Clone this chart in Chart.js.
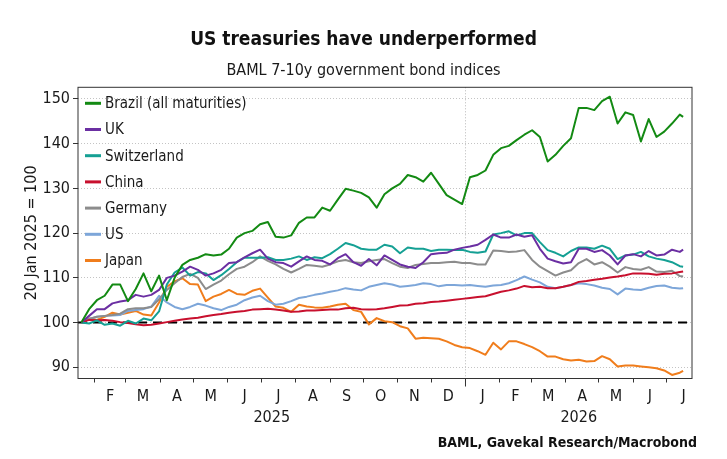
<!DOCTYPE html>
<html>
<head>
<meta charset="utf-8">
<script src="https://cdn.jsdelivr.net/npm/chart.js@4.4.1/dist/chart.umd.min.js"></script>
<style>
  html, body { margin: 0; padding: 0; background: #fff; }
</style>
</head>
<body>
<canvas id="chart" width="727" height="459"></canvas>
<script>
// weekly observations, 20 Jan 2025 = 100
const dates = [
  '2025-01-20', '2025-01-27', '2025-02-03', '2025-02-10', '2025-02-17', '2025-02-24',
  '2025-03-03', '2025-03-10', '2025-03-17', '2025-03-24', '2025-03-31',
  '2025-04-07', '2025-04-14', '2025-04-21', '2025-04-28',
  '2025-05-05', '2025-05-12', '2025-05-19', '2025-05-26',
  '2025-06-02', '2025-06-09', '2025-06-16', '2025-06-23', '2025-06-30',
  '2025-07-07', '2025-07-14', '2025-07-21', '2025-07-28',
  '2025-08-04', '2025-08-11', '2025-08-18', '2025-08-25',
  '2025-09-01', '2025-09-08', '2025-09-15', '2025-09-22', '2025-09-29',
  '2025-10-06', '2025-10-13', '2025-10-20', '2025-10-27',
  '2025-11-03', '2025-11-10', '2025-11-17', '2025-11-24',
  '2025-12-01', '2025-12-08', '2025-12-15', '2025-12-22', '2025-12-29',
  '2026-01-05', '2026-01-12', '2026-01-19', '2026-01-26',
  '2026-02-02', '2026-02-09', '2026-02-16', '2026-02-23',
  '2026-03-02', '2026-03-09', '2026-03-16', '2026-03-23', '2026-03-30',
  '2026-04-06', '2026-04-13', '2026-04-20', '2026-04-27',
  '2026-05-04', '2026-05-11', '2026-05-18', '2026-05-25',
  '2026-06-01', '2026-06-08', '2026-06-15', '2026-06-22', '2026-06-29',
  '2026-07-06', '2026-07-13', '2026-07-16'
];

const brazil = [100, 103, 105, 106, 108.5, 108.5, 104.8, 107.5, 111, 107,
  110.5, 105, 110, 112.9, 114, 114.5, 115.3, 115, 115.2, 116.5,
  119, 120, 120.5, 122, 122.5, 119.2, 119, 119.5, 122.3, 123.5,
  123.5, 125.7, 125, 127.5, 129.9, 129.5, 129, 128, 125.7, 128.7,
  130, 131, 133, 132.5, 131.5, 133.5, 131, 128.5, 127.5, 126.5,
  132.5, 133, 134, 137.5, 139, 139.5, 140.8, 142, 143, 141.5,
  136, 137.5, 139.5, 141.2, 148, 148, 147.5, 149.5, 150.5, 144.5,
  147, 146.4, 140.5, 145.5, 141.5, 142.7, 144.5, 146.5, 146];

const uk = [100, 101.5, 103, 103, 104.3, 104.7, 105, 106.2, 105.8, 106.2,
  107.3, 110, 110.5, 111.4, 112.5, 111.8, 110.5, 111, 111.8, 113.3,
  113.5, 114.6, 115.5, 116.3, 114.3, 113.5, 113.3, 112.5, 113.7, 114.8,
  114, 113.8, 113, 114.4, 115.3, 113.5, 112.7, 114.2, 112.8, 115,
  114, 113, 112.5, 112.2, 113.5, 115.3, 115.5, 115.6, 116.3, 116.7,
  117, 117.4, 118.5, 119.7, 119, 119, 119.7, 119.2, 119.5, 116.5,
  114.3, 113.7, 113.2, 113.5, 116.5, 116.5, 115.8, 116.2, 115, 113,
  115, 115.3, 114.8, 116, 115, 115.2, 116.3, 115.8, 116.3];

const switzerland = [100, 99.8, 100.5, 99.5, 99.8, 99.3, 100.4, 99.8, 100.9, 100.5,
  102.5, 108.5, 111.2, 112.3, 110.5, 111.3, 111, 109.5, 110.6, 112,
  113.5, 114.5, 114.5, 114.5, 114.6, 114, 114, 114.3, 114.8, 114,
  114.6, 114.4, 115.3, 116.5, 117.8, 117.3, 116.5, 116.3, 116.3, 117.4,
  117, 115.5, 116.8, 116.5, 116.5, 116, 116.3, 116.3, 116.2, 116.3,
  115.8, 115.6, 115.9, 119.7, 120, 120.4, 119.5, 120, 120, 118,
  116.2, 115.6, 114.8, 116, 116.8, 116.8, 116.5, 117.2, 116.5, 114.2,
  115, 115.2, 115.8, 114.8, 114.3, 114, 113.5, 112.6, 112.5];

const china = [100, 100.6, 100.5, 100.6, 100.4, 100.1, 99.9, 99.6, 99.4, 99.5,
  99.8, 100.1, 100.4, 100.7, 100.9, 101.1, 101.4, 101.7, 101.9, 102.2,
  102.4, 102.6, 102.9, 103, 103.1, 102.9, 102.7, 102.4, 102.5, 102.7,
  102.7, 102.8, 102.9, 102.9, 103.2, 103.3, 103, 102.9, 103, 103.2,
  103.5, 103.8, 103.9, 104.2, 104.3, 104.6, 104.7, 104.9, 105.1, 105.3,
  105.5, 105.7, 105.9, 106.4, 106.9, 107.2, 107.6, 108.2, 107.9, 108,
  107.7, 107.7, 108, 108.4, 109.1, 109.3, 109.6, 109.8, 110.1, 110.3,
  110.6, 111, 111, 110.9, 110.7, 110.9, 111, 111.3, 111.4];

const germany = [100, 100.8, 101.3, 101.5, 101.7, 102, 103, 103.2, 103.2, 103.5,
  105.2, 107.3, 108.8, 110.2, 110.9, 110, 107.5, 108.5, 109.4, 110.8,
  112, 112.5, 113.5, 114.8, 113.8, 113, 112, 111.2, 112, 112.9,
  112.7, 112.5, 113, 113.7, 114, 113.5, 113.3, 113.7, 114, 114.2,
  113.3, 112.5, 112.2, 112.9, 113.1, 113.3, 113.3, 113.5, 113.6, 113.3,
  113.3, 113, 113, 116.1, 116, 115.8, 115.9, 116.2, 114, 112.5,
  111.5, 110.5, 111.2, 111.7, 113.3, 114.2, 113, 113.5, 112.5, 111.2,
  112.4, 112, 111.8, 112.4, 111.4, 111.3, 111.6, 110.4, 110.3];

const us = [100, 100.8, 101.3, 101.5, 101.6, 101.7, 102.6, 102.8, 103, 103.6,
  106, 104.5, 103.5, 103, 103.5, 104.2, 103.8, 103.2, 102.8, 103.5,
  104, 105, 105.6, 106, 104.8, 104, 104.2, 104.8, 105.5, 105.8,
  106.2, 106.5, 106.9, 107.2, 107.7, 107.4, 107.2, 108, 108.4, 108.8,
  108.5, 108, 108.2, 108.4, 108.8, 108.6, 108.1, 108.4, 108.4, 108.3,
  108.4, 108.2, 108, 108.3, 108.4, 108.8, 109.5, 110.3, 109.6, 109,
  108, 107.7, 108, 108.4, 108.8, 108.6, 108.3, 107.8, 107.5, 106.3,
  107.6, 107.4, 107.3, 107.8, 108.2, 108.3, 107.8, 107.6, 107.7];

const japan = [100, 100.9, 100.6, 101.3, 102.2, 101.8, 102.2, 102.6, 101.8, 101.6,
  104.5, 108, 109.2, 109.9, 108.6, 108.5, 104.8, 105.8, 106.4, 107.3,
  106.4, 106.2, 107.1, 107.6, 105.6, 103.6, 103.3, 102.4, 104, 103.6,
  103.4, 103.3, 103.6, 104, 104.2, 102.8, 102.4, 99.6, 101, 100.3,
  100.1, 99.2, 98.7, 96.4, 96.6, 96.5, 96.4, 95.8, 95, 94.5,
  94.3, 93.6, 92.8, 95.5, 94, 95.8, 95.8, 95.2, 94.5, 93.6,
  92.4, 92.4, 91.8, 91.5, 91.7, 91.3, 91.4, 92.5, 91.8, 90.2,
  90.4, 90.4, 90.2, 90, 89.8, 89.3, 88.3, 88.8, 89.2];

const monthLetters = ['F', 'M', 'A', 'M', 'J', 'J', 'A', 'S', 'O', 'N', 'D',
  'J', 'F', 'M', 'A', 'M', 'J', 'J'];
const yearLabels = ['2025', '2026'];
const yTicks = [90, 100, 110, 120, 130, 140, 150];
const baseValue = 100;

const FONT = "'DejaVu Sans Condensed', 'Liberation Sans Narrow', sans-serif";
const TEXT = '#1a1a1a';

// dates -> day numbers (no date adapter available)
const origin = Date.UTC(2025, 0, 20);
function toDay(s) {
  const p = s.split('-').map(Number);
  return (Date.UTC(p[0], p[1] - 1, p[2]) - origin) / 864e5;
}
const xMin = toDay('2025-01-17');
const xMax = toDay('2026-07-24');
const yearStart = toDay('2026-01-01');

// month boundaries and mid-month label positions
const monthStarts = [];
for (let i = 0; i <= monthLetters.length; i++) {
  monthStarts.push((Date.UTC(2025, 1 + i, 1) - origin) / 864e5);
}
const labelAt = new Map();
const startSet = new Set(monthStarts.slice(0, monthLetters.length));
monthLetters.forEach((m, i) => {
  labelAt.set((monthStarts[i] + monthStarts[i + 1]) / 2, m);
});
const yearCentres = [(xMin + yearStart) / 2, (yearStart + xMax) / 2];

function series(values) {
  return dates.map((d, i) => ({ x: toDay(d), y: values[i] }));
}

const seriesDefs = [
  { label: 'Brazil (all maturities)', values: brazil, color: '#138a13' },
  { label: 'UK', values: uk, color: '#6b2fa2' },
  { label: 'Switzerland', values: switzerland, color: '#15a094' },
  { label: 'China', values: china, color: '#c8102e' },
  { label: 'Germany', values: germany, color: '#8c8c8c' },
  { label: 'US', values: us, color: '#7da6d9' },
  { label: 'Japan', values: japan, color: '#f07d1c' }
];

const datasets = seriesDefs.map(s => ({
  label: s.label,
  data: series(s.values),
  borderColor: s.color,
  backgroundColor: s.color,
  borderWidth: 2,
  pointRadius: 0,
  tension: 0,
  borderJoinStyle: 'round'
}));
datasets.push({
  label: '',
  data: [{ x: xMin, y: baseValue }, { x: xMax, y: baseValue }],
  borderColor: '#000',
  borderWidth: 2,
  borderDash: [9, 6],
  pointRadius: 0,
  order: 10
});

// frame, legend inside the plot, long year tick, source line
const extras = {
  id: 'extras',
  afterDraw(chart) {
    const { ctx, chartArea: a } = chart;
    ctx.save();
    ctx.strokeStyle = '#333';
    ctx.lineWidth = 1;
    ctx.strokeRect(a.left, a.top, a.right - a.left, a.bottom - a.top);

    const xs = chart.scales.x.getPixelForValue(yearStart);
    ctx.beginPath();
    ctx.moveTo(xs, a.bottom);
    ctx.lineTo(xs, a.bottom + 8);
    ctx.stroke();

    ctx.font = '15px ' + FONT;
    ctx.textBaseline = 'middle';
    chart.data.datasets.filter(d => d.label).forEach((ds, i) => {
      const y = a.top + 16 + i * 26.2;
      ctx.strokeStyle = ds.borderColor;
      ctx.lineWidth = 3;
      ctx.beginPath();
      ctx.moveTo(a.left + 7, y);
      ctx.lineTo(a.left + 23, y);
      ctx.stroke();
      ctx.fillStyle = TEXT;
      ctx.fillText(ds.label, a.left + 27, y + 1);
    });

    ctx.font = 'bold 14px ' + FONT;
    ctx.textAlign = 'right';
    ctx.fillStyle = '#111';
    ctx.fillText('BAML, Gavekal Research/Macrobond', 697, 443);
    ctx.restore();
  }
};

Chart.defaults.font.family = FONT;
Chart.defaults.font.size = 16;
Chart.defaults.color = TEXT;

new Chart(document.getElementById('chart'), {
  type: 'line',
  data: { datasets: datasets },
  plugins: [extras],
  options: {
    responsive: false,
    animation: false,
    layout: { padding: { top: 4, left: 0, right: 0, bottom: 30.5 } },
    plugins: {
      legend: { display: false },
      tooltip: { enabled: false },
      title: {
        display: true,
        text: 'US treasuries have underperformed',
        color: '#111',
        font: { size: 19, weight: 'bold' },
        padding: { top: 25, bottom: 6 }
      },
      subtitle: {
        display: true,
        text: 'BAML 7-10y government bond indices',
        color: TEXT,
        font: { size: 16 },
        padding: { top: 3.6, bottom: 6.7 }
      }
    },
    scales: {
      x: {
        type: 'linear',
        position: 'bottom',
        min: xMin,
        max: xMax,
        weight: 0,
        afterBuildTicks(scale) {
          const vals = monthStarts.slice(0, monthLetters.length).concat([...labelAt.keys()]);
          vals.sort((p, q) => p - q);
          scale.ticks = vals.map(v => ({ value: v }));
        },
        afterFit(scale) { scale.height = 28; },
        ticks: {
          autoSkip: false,
          maxRotation: 0,
          padding: 5,
          callback: v => labelAt.get(v) || ''
        },
        grid: {
          tickLength: 4,
          color: c => (c.tick && c.tick.value === yearStart) ? '#b8b8b8' : 'rgba(0,0,0,0)',
          tickColor: c => (c.tick && startSet.has(c.tick.value)) ? '#333' : 'rgba(0,0,0,0)'
        },
        border: { display: false, dash: [1, 2] }
      },
      xYear: {
        type: 'linear',
        position: 'bottom',
        min: xMin,
        max: xMax,
        weight: 1,
        afterBuildTicks(scale) {
          scale.ticks = yearCentres.map(v => ({ value: v }));
        },
        afterFit(scale) { scale.height = 22; },
        ticks: {
          autoSkip: false,
          maxRotation: 0,
          padding: 2,
          callback: (v, i) => yearLabels[i]
        },
        grid: { display: false, drawTicks: false, tickLength: 0 },
        border: { display: false }
      },
      y: {
        type: 'linear',
        min: 87.5,
        max: 152.6,
        afterBuildTicks(scale) {
          scale.ticks = yTicks.map(v => ({ value: v }));
        },
        afterFit(scale) { scale.width = 78; },
        ticks: { padding: 3 },
        grid: {
          tickLength: 5,
          color: '#c4c4c4',
          tickColor: '#333'
        },
        border: { display: false, dash: [1, 2] },
        title: {
          display: true,
          text: '20 Jan 2025 = 100',
          font: { size: 16 },
          padding: { top: 22, bottom: 0 }
        }
      },
      // empty right-hand margin so the titles centre on the whole canvas
      yPad: {
        type: 'linear',
        position: 'right',
        display: true,
        afterFit(scale) { scale.width = 35; },
        ticks: { display: false },
        grid: { display: false, drawTicks: false },
        border: { display: false }
      }
    }
  }
});
</script>
</body>
</html>
